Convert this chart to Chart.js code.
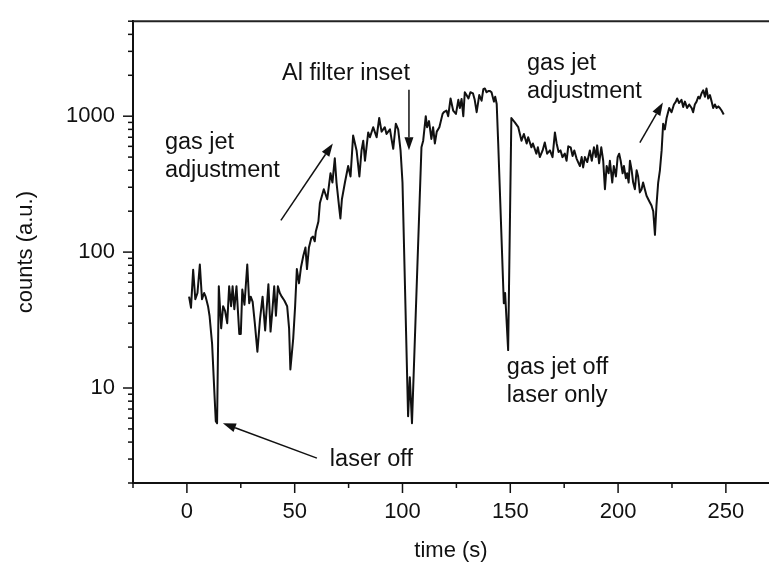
<!DOCTYPE html>
<html>
<head>
<meta charset="utf-8">
<script src="https://cdn.jsdelivr.net/npm/chart.js@4.4.1/dist/chart.umd.min.js"></script>
<style>
  html, body { margin: 0; padding: 0; background: #fff; }
  #wrap { width: 769px; height: 568px; }
</style>
</head>
<body>
<div id="wrap"><canvas id="counts-chart" width="769" height="568"></canvas></div>
<script>
/*
  Detector counts vs time, log y axis.
  Values.
*/

const times = [
  1, 1.9, 2.9, 3.9, 4.9, 6, 7, 8, 8.7, 9.8, 10.5, 11.7, 12.7, 13.4, 14, 14.8,
  15.9, 16.8, 17.7, 18.7, 19.6, 20.5, 21.2, 22, 23, 24.3, 25, 25.7, 26.7, 28,
  28.9, 29.6, 30.5, 31.5, 32.7, 33.9, 35.1, 36.3, 37.8, 38.8, 39.7, 40.5, 41.3,
  42.2, 43.1, 44, 45.2, 46.5, 47.4, 48, 49.3, 50.2, 51, 52, 52.9, 54, 55, 55.7,
  56.6, 57.7, 58.5, 59.3, 59.8, 61, 61.7, 63.5, 65.1, 66.6, 67.5, 68.6, 69.4,
  70.7, 71.2, 71.9, 73.3, 74.8, 75.9, 77.1, 78.7, 80, 81, 81.8, 82.6, 84.1,
  84.9, 86.4, 88, 89.2, 90.3, 91.8, 92.6, 94.2, 94.9, 95.7, 96.9, 98, 99.1, 100,
  102.6, 103.4, 104.4, 108.8, 109.6, 110.8, 111.4, 112.3, 113.4, 114.2, 115,
  115.9, 117.1, 118.6, 119.2, 120.4, 121.2, 122.3, 123.5, 124.8, 125.9, 126.6,
  127.4, 128.2, 128.9, 129.7, 130.6, 131.5, 132.7, 133.5, 134.4, 135.6, 136.7,
  137.5, 138.2, 139, 139.8, 140.6, 141.3, 142.4, 143, 143.7, 144.4, 147, 147.6,
  149, 150.5, 152.1, 153.7, 155.2, 156.3, 157.6, 158.3, 159.8, 160.5, 162.1,
  162.8, 163.7, 165, 166, 167.1, 168.4, 169.6, 170.7, 171.5, 172.4, 173.3, 174.2,
  175.3, 176.1, 176.9, 178, 178.9, 179.7, 180.7, 181.7, 182.3, 183.1, 183.8,
  184.6, 185.7, 186.9, 187.8, 188.8, 189.7, 190.3, 191.2, 192.2, 193.1, 193.9,
  194.7, 195.6, 196.2, 197.3, 198, 199, 199.8, 200.5, 201.2, 202.1, 202.7, 203.6,
  204.2, 204.9, 205.5, 206.3, 207, 207.8, 208.6, 209.3, 210.1, 210.9, 211.6,
  212.4, 213.2, 214, 214.7, 215.5, 216.3, 217.1, 217.8, 218.6, 219.4, 220.2,
  220.9, 221.7, 222.5, 223.7, 224.8, 225.9, 226.8, 227.4, 228.3, 229.4, 230.2,
  231, 232, 233, 234.1, 234.8, 235.6, 236.4, 237.2, 237.9, 238.7, 239.5, 240.3,
  241, 241.8, 242.6, 243.4, 244.1, 244.9, 245.7, 246.5, 247.2, 248, 249,
];

const counts = [
  47, 39, 74, 45, 50, 81, 45, 50, 47, 40, 34, 21, 9.6, 5.7, 5.5, 56,
  27.5, 40, 37, 30, 56, 40, 56, 38, 56, 25, 25, 53, 41, 81,
  42, 47, 43, 30, 18.5, 32, 47, 26.5, 58, 26, 38, 56, 34,
  56, 50, 47, 44, 40, 27.5, 13.7, 23, 40, 75, 59, 77, 94, 108, 75,
  108, 127, 130, 120, 142, 168, 230, 290, 245, 380, 325, 490, 325,
  208, 177, 245, 325, 430, 360, 720, 560, 360, 560, 660, 470, 760,
  700, 830, 700, 970, 770, 830, 740, 800, 680, 575, 880, 800, 560, 325,
  6.2, 12, 5.5, 590, 660, 1000, 830, 920, 680, 830, 630,
  770, 830, 1040, 1070, 1100, 1000, 1350, 1100, 1040, 1320, 1150,
  1340, 1000, 1500, 1430, 1350, 1500, 1470, 1320, 1070, 1430, 1300,
  1580, 1600, 1500, 1530, 1530, 1500, 1280, 1390, 1230, 630, 42, 50,
  19, 970, 900, 830, 660, 740, 630, 700, 590, 630, 530,
  590, 500, 560, 640, 530, 560, 500, 760, 630, 545, 560, 500,
  530, 470, 600, 590, 510, 560, 490, 450, 430, 500, 420,
  500, 460, 560, 470, 590, 500, 610, 450, 590, 470, 290,
  430, 380, 470, 325, 430, 360, 500, 530, 470, 380, 430, 350,
  380, 325, 470, 400, 325, 290, 400, 360, 275, 290, 325,
  290, 260, 245, 233, 220, 200, 134, 220, 325, 400, 560,
  880, 800, 970, 1150, 1070, 1220, 1280, 1350, 1250, 1320, 1170,
  1280, 1150, 1220, 1150, 1070, 1220, 1280, 1390, 1350, 1470, 1550, 1390,
  1600, 1350, 1430, 1280, 1150, 1220, 1150, 1180, 1150, 1100, 1030,
];

/* axis ticks: x every 25 (labels every 50), y at 2..9 of each decade */
const xTickValues = [-25, 0, 25, 50, 75, 100, 125, 150, 175, 200, 225, 250];
const xTickLabels = ['', '0', '', '50', '', '100', '', '150', '', '200', '', '250'];

const yTickValues = [
  2, 3, 4, 5, 6, 7, 8, 9,
  10, 20, 30, 40, 50, 60, 70, 80, 90,
  100, 200, 300, 400, 500, 600, 700, 800, 900,
  1000, 2000, 3000, 4000, 5000,
];
const yMajorValues = [10, 100, 1000];

/* text notes and arrows, placed in data units (time, counts) */
const noteTexts = [
  ['gas jet', 'adjustment'],
  ['Al filter inset'],
  ['gas jet', 'adjustment'],
  ['gas jet off', 'laser only'],
  ['laser off'],
];
const noteAnchors = [
  [-10.2, 570],
  [44.1, 1841],
  [157.7, 2173],
  [148.4, 12.6],
  [66.3, 2.67],
];
const arrowFrom = [[43.6, 171], [103, 1563], [210.1, 640], [60.3, 3.05]];
const arrowTo = [[67.7, 630], [103, 561], [220.8, 1260], [16.7, 5.5]];

const ink = '#111';
const fontFamily = "'Liberation Sans', Arial, sans-serif";

// short minor ticks, longer major ticks, plus the top frame line
const tickMarks = {
  id: 'tickMarks',
  afterDraw(chart) {
    const { ctx, chartArea, scales } = chart;
    ctx.save();
    ctx.strokeStyle = ink;
    ctx.lineWidth = 1.5;
    xTickValues.forEach((v, i) => {
      const px = scales.x.getPixelForValue(v);
      const len = xTickLabels[i] ? 10 : 5;
      ctx.beginPath();
      ctx.moveTo(px, chartArea.bottom);
      ctx.lineTo(px, chartArea.bottom + len);
      ctx.stroke();
    });
    yTickValues.forEach((v) => {
      const py = scales.y.getPixelForValue(v);
      const len = yMajorValues.includes(v) ? 10 : 5;
      ctx.beginPath();
      ctx.moveTo(chartArea.left, py);
      ctx.lineTo(chartArea.left - len, py);
      ctx.stroke();
    });
    ctx.strokeStyle = '#222';
    ctx.lineWidth = 2;
    ctx.beginPath();
    ctx.moveTo(chartArea.left, chartArea.top);
    ctx.lineTo(chartArea.right, chartArea.top);
    ctx.stroke();
    ctx.restore();
  },
};

const notesPlugin = {
  id: 'notes',
  afterDraw(chart) {
    const { ctx, scales } = chart;
    const px = (p) => [scales.x.getPixelForValue(p[0]), scales.y.getPixelForValue(p[1])];
    ctx.save();
    ctx.fillStyle = ink;
    ctx.font = '23.5px ' + fontFamily;
    ctx.textAlign = 'left';
    ctx.textBaseline = 'alphabetic';
    noteTexts.forEach((lines, i) => {
      const [x, y] = px(noteAnchors[i]);
      lines.forEach((line, j) => ctx.fillText(line, x, y + j * 28));
    });

    ctx.strokeStyle = ink;
    ctx.lineWidth = 1.5;
    arrowFrom.forEach((from, i) => {
      const [x0, y0] = px(from);
      const [x1, y1] = px(arrowTo[i]);
      const ang = Math.atan2(y1 - y0, x1 - x0);
      const headLen = 13;
      const headW = 4.5;
      const bx = x1 - headLen * Math.cos(ang);
      const by = y1 - headLen * Math.sin(ang);
      ctx.beginPath();
      ctx.moveTo(x0, y0);
      ctx.lineTo(bx, by);
      ctx.stroke();
      ctx.beginPath();
      ctx.moveTo(x1, y1);
      ctx.lineTo(bx + headW * Math.sin(ang), by - headW * Math.cos(ang));
      ctx.lineTo(bx - headW * Math.sin(ang), by + headW * Math.cos(ang));
      ctx.closePath();
      ctx.fill();
    });
    ctx.restore();
  },
};

const tickFont = { family: fontFamily, size: 22 };

const config = {
  type: 'line',
  data: {
    datasets: [
      {
        data: times.map((t, i) => ({ x: t, y: counts[i] })),
        borderColor: ink,
        borderWidth: 2,
        borderJoinStyle: 'round',
        pointRadius: 0,
        tension: 0,
        fill: false,
      },
    ],
  },
  options: {
    responsive: false,
    animation: false,
    devicePixelRatio: 1,
    layout: { padding: { top: 9, right: 0, bottom: 0, left: 0 } },
    plugins: {
      legend: { display: false },
      tooltip: { enabled: false },
    },
    scales: {
      x: {
        type: 'linear',
        min: -25,
        max: 270,
        afterBuildTicks: (scale) => {
          scale.ticks = xTickValues.map((v) => ({ value: v }));
        },
        afterFit: (scale) => {
          scale.height = 85;
        },
        ticks: {
          autoSkip: false,
          maxRotation: 0,
          padding: 6,
          color: ink,
          font: tickFont,
          callback: (value, index) => xTickLabels[index],
        },
        grid: {
          drawOnChartArea: false,
          drawTicks: true,
          tickLength: 10,
          color: 'rgba(0,0,0,0)',
        },
        border: { display: true, color: ink, width: 2 },
        title: {
          display: true,
          text: 'time (s)',
          color: ink,
          font: tickFont,
          padding: { top: 0, bottom: 4 },
        },
      },
      y: {
        type: 'logarithmic',
        min: 2,
        max: 5000,
        afterBuildTicks: (scale) => {
          scale.ticks = yTickValues.map((v) => ({ value: v }));
        },
        afterFit: (scale) => {
          scale.width = 133;
        },
        ticks: {
          autoSkip: false,
          padding: 8,
          color: ink,
          font: tickFont,
          callback: (value) => (yMajorValues.includes(value) ? String(value) : ''),
        },
        grid: {
          drawOnChartArea: false,
          drawTicks: true,
          tickLength: 10,
          color: 'rgba(0,0,0,0)',
        },
        border: { display: true, color: ink, width: 2 },
        title: {
          display: true,
          text: 'counts (a.u.)',
          color: ink,
          font: tickFont,
          padding: { top: 13, bottom: 0 },
        },
      },
    },
  },
  plugins: [tickMarks, notesPlugin],
};

new Chart(document.getElementById('counts-chart'), config);
</script>
</body>
</html>
